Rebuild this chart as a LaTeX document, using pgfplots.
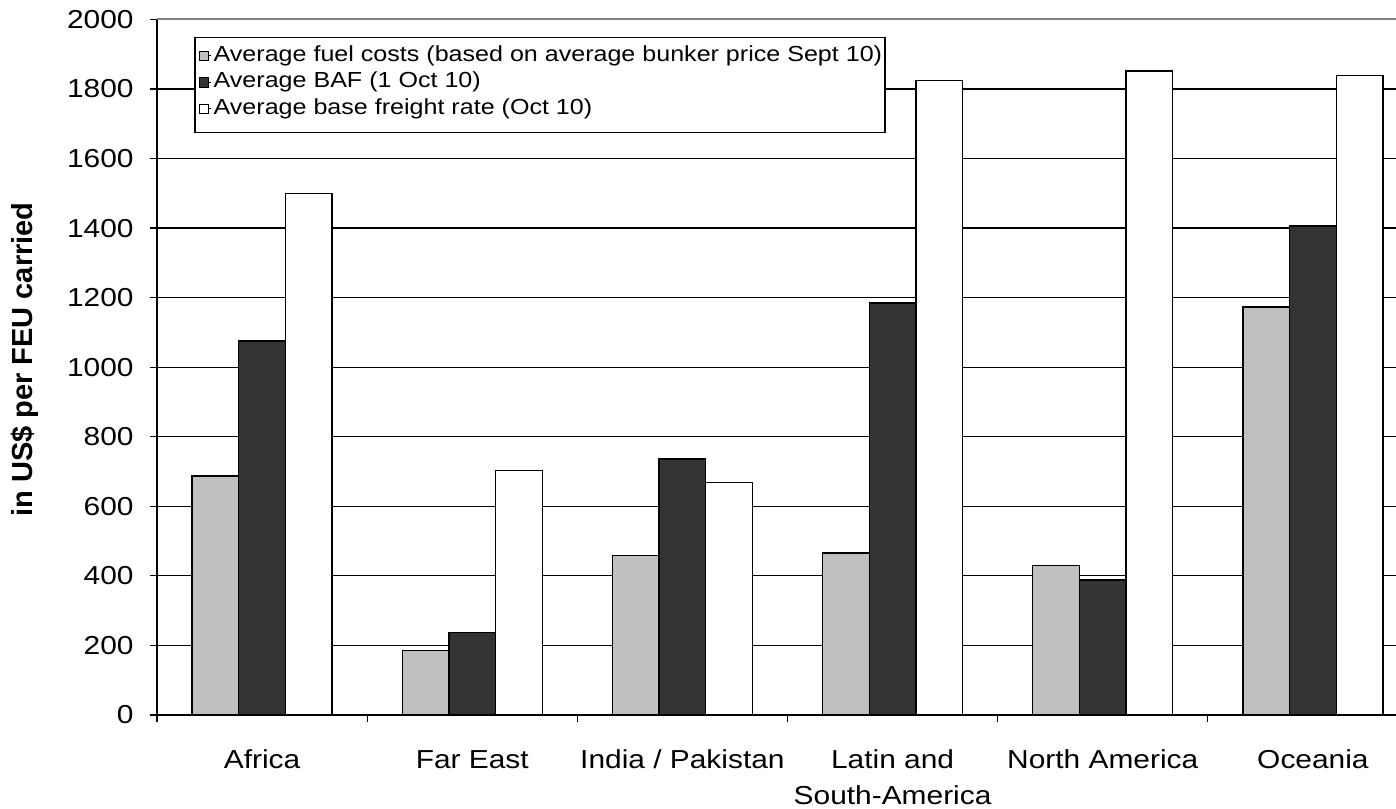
\documentclass[border=0pt]{standalone}
\usepackage{pgfplots}
\pgfplotsset{compat=1.18}
\usepackage{fontspec}
\setmainfont{Liberation Sans}[FakeStretch=1.15]
\newfontfamily\labfont{Liberation Sans}
\definecolor{fuelgray}{RGB}{192,192,192}
\definecolor{bafdark}{RGB}{51,51,51}

\begin{document}
\begin{tikzpicture}
\useasboundingbox (-78.5pt,-46.5pt) rectangle (619.5pt,357.5pt);
\clip (-78.5pt,-46.5pt) rectangle (619.5pt,357.5pt);
\begin{axis}[
  at={(0pt,0pt)}, anchor=south west,
  scale only axis, width=630.5pt, height=347.8pt,
  xmin=-0.5, xmax=5.5, ymin=0, ymax=2000,
  axis x line*=bottom, axis y line*=left,
  axis line style={black, line width=0.7pt},
  tick align=outside,
  major tick length=3.5pt,
  tick style={black, line width=0.6pt},
  xtick={-0.5,0.5,...,5.5},
  x tick label as interval,
  xticklabels={\strut Africa, \strut Far East, \strut India / Pakistan,
    {\strut Latin and\\South-America}, \strut North America, \strut Oceania},
  xticklabel style={align=center, inner sep=0pt, anchor=north, yshift=-10.4pt,
    font=\fontsize{13}{18}\selectfont},
  ytick={0,200,...,1800},
  extra y ticks={2000},
  extra y tick style={grid style={gray, line width=0.9pt}},
  yticklabel style={inner sep=0pt, anchor=east, xshift=-8pt,
    font=\fontsize{13}{15}\selectfont},
  /pgf/number format/assume math mode=true,
  /pgf/number format/1000 sep={},
  ymajorgrids,
  grid style={black, line width=0.6pt},
  ylabel={\labfont\bfseries\fontsize{14.5}{16}\selectfont in US\$ per FEU carried},
  ylabel style={at={(axis description cs:-0.1047,0.511)}, anchor=center, rotate=0},
  ybar, bar width=0.2222,
  every axis plot/.append style={draw=black, line width=0.65pt},
  legend style={at={(rel axis cs:0.0325,0.9665)}, anchor=north west,
    draw=none, fill=none,
    font=\fontsize{10.9}{12}\selectfont,
    inner sep=0pt,
    row sep=0.55pt,
    nodes={inner sep=1pt, text height=8pt, text depth=2.7pt}},
  legend cell align=left,
  legend image code/.code={%
    \path (0pt,0pt) -- (6pt,0pt);
    \draw[#1, line width=0.4pt] (0pt,-2.4pt) rectangle (4.5pt,2.4pt);},
]
% legend frame, drawn over the grid and under the entries
\draw[fill=white, draw=black, line width=0.6pt]
  (rel axis cs:0.0301,0.9741) rectangle (rel axis cs:0.5773,0.8376);
\addplot[fill=fuelgray, bar shift=-0.2222] coordinates
  {(0,687) (1,186) (2,458) (3,466) (4,429) (5,1173)};
\addplot[fill=bafdark, bar shift=0] coordinates
  {(0,1075) (1,237) (2,736) (3,1185) (4,388) (5,1406)};
\addplot[fill=white, bar shift=0.2222] coordinates
  {(0,1500) (1,703) (2,668) (3,1825) (4,1852) (5,1839)};
\legend{Average fuel costs (based on average bunker price Sept 10),
  Average BAF (1 Oct 10),
  Average base freight rate (Oct 10)}
\end{axis}
\end{tikzpicture}
\end{document}
